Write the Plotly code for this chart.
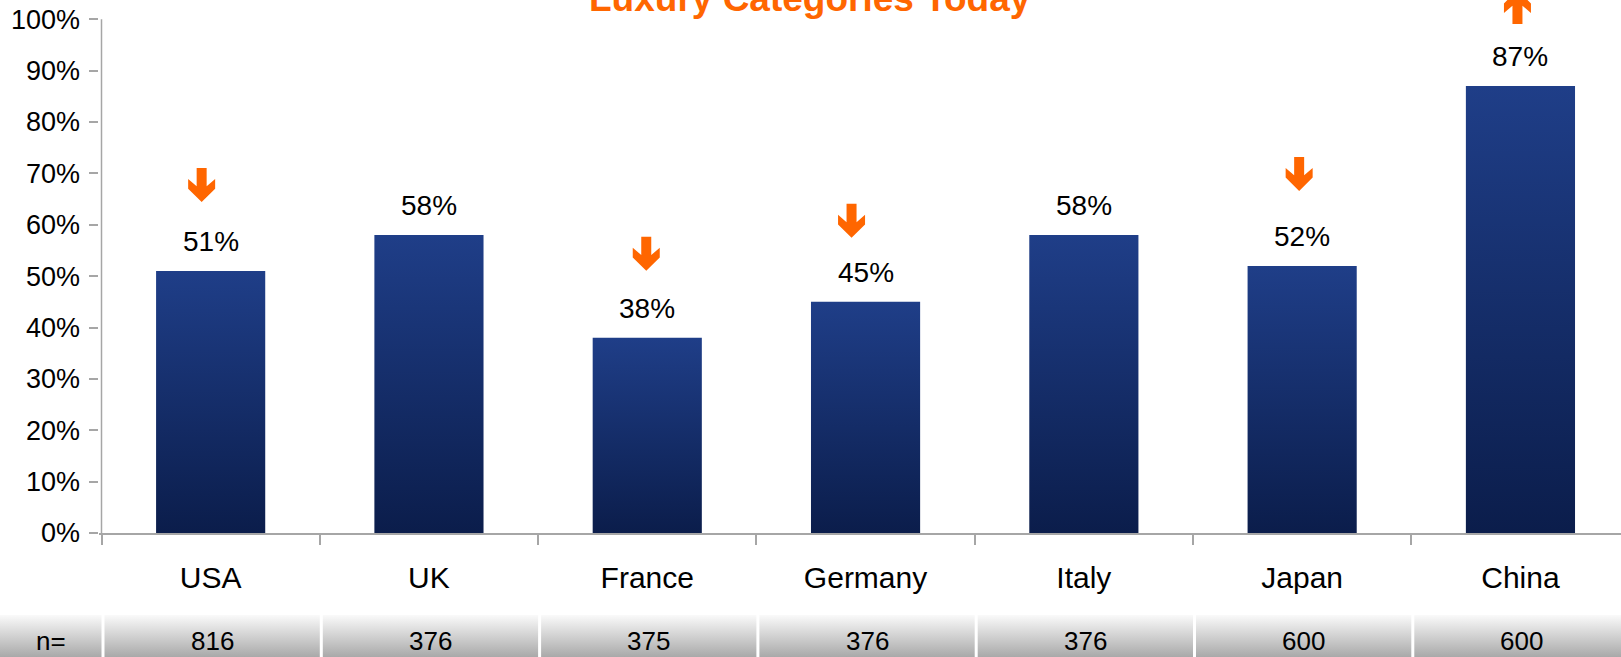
import plotly.graph_objects as go

# ---------------- data ----------------
countries = ["USA", "UK", "France", "Germany", "Italy", "Japan", "China"]
share_pct = [51, 58, 38, 45, 58, 52, 87]
sample_n = [816, 376, 375, 376, 376, 600, 600]
trend = ["down", None, "down", "down", None, "down", "up"]
n_label = "n="
title_text = "Luxury Categories Today"

# ---------------- layout constants (pixels) ----------------
W, H = 1621, 657
AX_LEFT = 101.5      # x pixel of the value axis
CAT_W = 218.3        # pixel width of one category
Y0_PX = 533          # y pixel of 0%
UNIT_PX = 513.7      # pixels for 100%
TABLE_TOP = 615      # top of the n= row
PAD = 3              # small pad so the axis line is not clipped
BAR_HALF = 0.25
GAP = 3 / CAT_W

# arrow nudges: (dx px, height of arrow bottom above bar top in px)
ARROW_NUDGE = {"USA": (-9, 69), "France": (-1, 67), "Germany": (-14, 64),
               "Japan": (-3, 75), "China": (-3, 62)}

NAVY_DARK = "#0b1d4b"
NAVY_LIGHT = "#1f3e88"
ORANGE = "#ff6600"
AXIS_GREY = "#a6a6a6"
FONT = "Liberation Sans, Arial, sans-serif"

x_min = -0.5 - PAD / CAT_W
x_max = -0.5 + (W - AX_LEFT) / CAT_W
x2_min = -0.5 - AX_LEFT / CAT_W
y_top = Y0_PX / UNIT_PX

fig = go.Figure()

# ---------------- bars (gradient filled) ----------------
for i, (c, v) in enumerate(zip(countries, share_pct)):
    f = v / 100
    fig.add_trace(go.Scatter(
        x=[i - BAR_HALF, i - BAR_HALF, i + BAR_HALF, i + BAR_HALF, i - BAR_HALF],
        y=[0, f, f, 0, 0],
        fill="toself", mode="none",
        fillgradient=dict(type="vertical",
                          colorscale=[[0, NAVY_DARK], [1, NAVY_LIGHT]]),
        name=c, showlegend=False, hoverinfo="skip",
        xaxis="x", yaxis="y"))

annotations = []
shapes = []

# value labels
for i, v in enumerate(share_pct):
    annotations.append(dict(
        x=i, y=v / 100, xref="x", yref="y", text=f"{v}%", showarrow=False,
        yanchor="bottom", yshift=12,
        font=dict(family=FONT, size=28, color="#000000")))

# trend arrows
def arrow_path(direction, dx, base):
    # pixel coordinates, y up, base = bottom of arrow
    if direction == "down":
        pts = [(-5, 34), (5, 34), (5, 15.7), (13.5, 23), (13.5, 13.3), (0, 0),
               (-13.5, 13.3), (-13.5, 23), (-5, 15.7)]
    else:
        pts = [(-5, 0), (5, 0), (5, 18.3), (13.5, 11), (13.5, 20.7), (0, 34),
               (-13.5, 20.7), (-13.5, 11), (-5, 18.3)]
    segs = []
    for k, (px, py) in enumerate(pts):
        segs.append(("M" if k == 0 else "L") + f"{px + dx},{py + base}")
    return " ".join(segs) + " Z"

for i, (c, d) in enumerate(zip(countries, trend)):
    if d is None:
        continue
    dx, base = ARROW_NUDGE.get(c, (0, 66))
    shapes.append(dict(
        type="path", xref="x", yref="y", xsizemode="pixel", ysizemode="pixel",
        xanchor=i, yanchor=share_pct[i] / 100,
        path=arrow_path(d, dx, base),
        fillcolor=ORANGE, line=dict(width=0), layer="above"))

# value axis line (0% .. 100%)
shapes.append(dict(type="line", xref="x", yref="y", x0=-0.5, x1=-0.5, y0=0, y1=1,
                   line=dict(color=AXIS_GREY, width=1.5), layer="above"))

# ---------------- n= row ----------------
cells = [n_label] + [str(n) for n in sample_n]
for k, txt in enumerate(cells):
    left = x2_min if k == 0 else -0.5 + (k - 1) + GAP
    right = -0.5 + k
    fig.add_trace(go.Scatter(
        x=[left, left, right, right, left], y=[0, 1, 1, 0, 0],
        fill="toself", mode="none",
        fillgradient=dict(type="vertical",
                          colorscale=[[0, "#a9a9a9"], [1, "#fafafa"]]),
        showlegend=False, hoverinfo="skip", xaxis="x2", yaxis="y2"))
    annotations.append(dict(
        x=(left + right) / 2, y=0.38, xref="x2", yref="y2", text=txt,
        showarrow=False, yanchor="middle",
        font=dict(family=FONT, size=26, color="#000000")))

# title (partly cut off at the top)
annotations.append(dict(
    x=810 / W, y=1, xref="paper", yref="paper", yanchor="top", yshift=24,
    text=f"<b>{title_text}</b>", showarrow=False,
    font=dict(family=FONT, size=37, color=ORANGE)))

fig.update_layout(
    width=W, height=H, autosize=False,
    margin=dict(l=0, r=0, t=0, b=0, autoexpand=False),
    paper_bgcolor="white", plot_bgcolor="white",
    showlegend=False,
    font=dict(family=FONT, color="#000000"),
    xaxis=dict(
        domain=[(AX_LEFT - PAD) / W, 1], range=[x_min, x_max],
        tickmode="array", tickvals=list(range(len(countries))), ticktext=countries,
        ticks="", showline=True, linecolor=AXIS_GREY, linewidth=1.5,
        showgrid=False, zeroline=False, anchor="y", automargin=False,
        tickfont=dict(family=FONT, size=30, color="#000000"),
        ticklabelstandoff=17,
        minor=dict(tickmode="array",
                   tickvals=[i - 0.5 for i in range(len(countries) + 1)],
                   ticks="outside", ticklen=10, tickwidth=1.5, tickcolor=AXIS_GREY,
                   showgrid=False)),
    yaxis=dict(
        domain=[(H - Y0_PX) / H, 1], range=[0, y_top],
        tickmode="array", tickvals=[k / 10 for k in range(11)], tickformat=".0%",
        ticks="outside", ticklen=6 + PAD, tickwidth=1.5, tickcolor=AXIS_GREY,
        showline=False, showgrid=False, zeroline=False, anchor="x", automargin=False,
        ticklabelstandoff=3,
        tickfont=dict(family=FONT, size=27, color="#000000")),
    xaxis2=dict(domain=[0, 1], range=[x2_min, x_max], visible=False, anchor="y2",
                automargin=False),
    yaxis2=dict(domain=[0, (H - TABLE_TOP) / H], range=[0, 1], visible=False,
                anchor="x2", automargin=False),
    annotations=annotations,
    shapes=shapes,
)

fig.write_html("out.html")
